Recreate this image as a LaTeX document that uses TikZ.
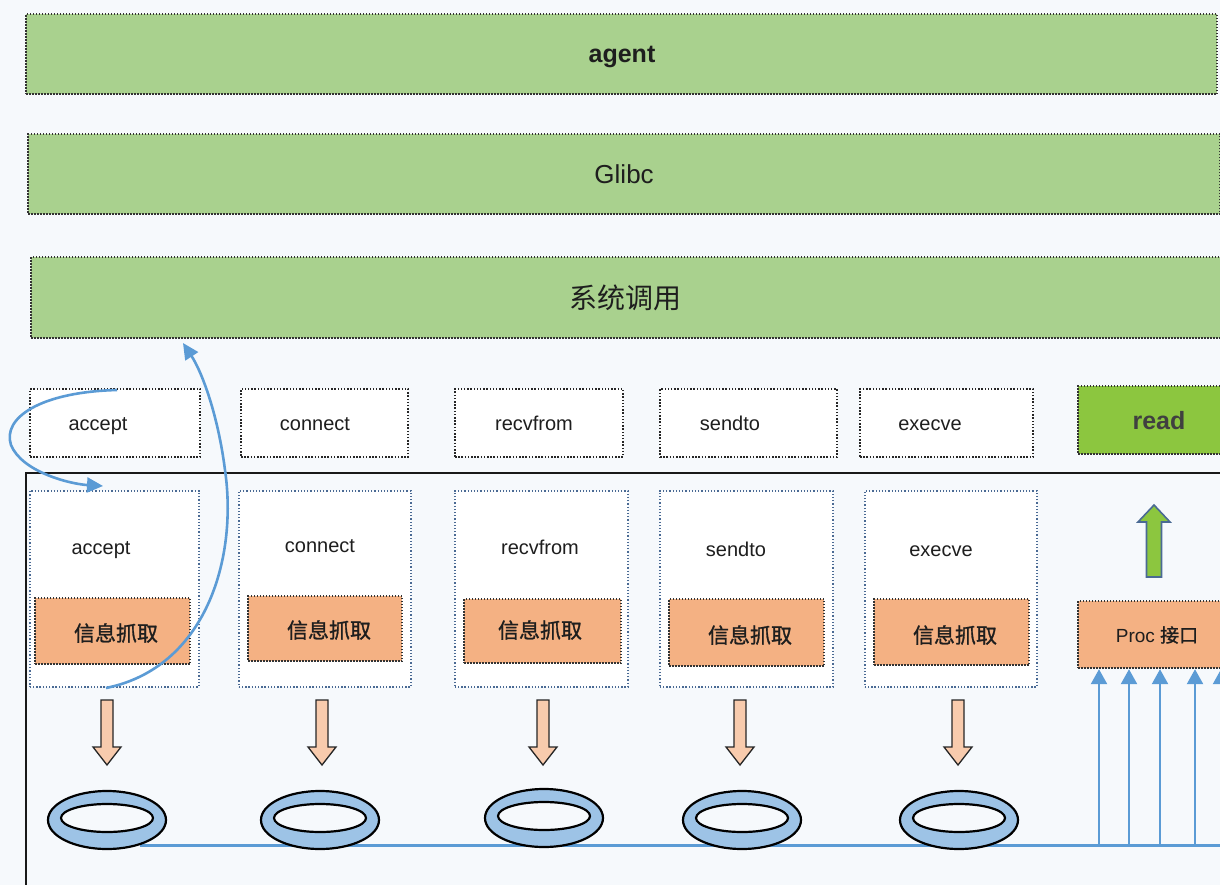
\documentclass[tikz,border=0pt]{standalone}
\usepackage{fontspec}
\setmainfont{Liberation Sans}
\newfontfamily\cjk{Noto Sans CJK SC}
\newfontfamily\cjkfb[FakeBold=1.2]{Noto Sans CJK SC}
\usetikzlibrary{arrows.meta,shapes.geometric}
\definecolor{bg}{HTML}{F6F9FC}
\definecolor{barGreen}{HTML}{A9D18E}
\definecolor{readGreen}{HTML}{8CC63F}
\definecolor{infoOrange}{HTML}{F4B183}
\definecolor{arrowPeach}{HTML}{F8CBAD}
\definecolor{ringBlue}{HTML}{9DC3E6}
\definecolor{lineBlue}{HTML}{5B9BD5}
\definecolor{hookBlue}{HTML}{4A6A94}
\definecolor{txt}{HTML}{1E1E1E}
\begin{document}
\begin{tikzpicture}[x=1pt,y=-1pt,
  greenbar/.style={draw=black!80, line width=2.2pt, dash pattern=on 1.5pt off 1.5pt, fill=barGreen, anchor=north west, inner sep=0pt, text=txt},
  callbox/.style={draw=black!85, line width=2pt, dash pattern=on 1.5pt off 1.7pt, fill=white, anchor=north west, inner sep=0pt},
  hookbox/.style={draw=hookBlue, line width=1.6pt, dash pattern=on 1.3pt off 1.9pt, fill=white, anchor=north west, inner sep=0pt},
  infobox/.style={draw=black!80, line width=2.2pt, dash pattern=on 1.5pt off 1.5pt, fill=infoOrange, anchor=north west, inner sep=0pt, text=txt},
  lbl/.style={font=\fontsize{20}{24}\selectfont, text=txt, inner sep=0pt, text height=14pt, text depth=4pt},
  cjklbl/.style={font=\cjkfb\fontsize{21}{24}\selectfont, text=txt, inner sep=0pt},
  ring/.style={ellipse, draw=black, line width=2.2pt, fill=ringBlue, minimum width=118pt, minimum height=58pt, inner sep=0pt},
  ringhole/.style={ellipse, draw=black, line width=2.2pt, fill=bg, minimum width=92pt, minimum height=28pt, inner sep=0pt},
  downarrow/.style={draw=black!85, line width=1.3pt, fill=arrowPeach},
  curve/.style={draw=lineBlue, line width=2.6pt, -{Triangle[length=16pt,width=15pt]}},
  bus/.style={draw=lineBlue, line width=3pt},
  feed/.style={draw=lineBlue, line width=2.4pt, -{Triangle[length=15pt,width=16pt]}}
]
\clip (0,0) rectangle (1220,885);
\fill[bg] (0,0) rectangle (1220,885);

% top layers
\node[greenbar, minimum width=1191pt, minimum height=80pt] (agent) at (25,13) {};
\node[font=\bfseries\fontsize{25}{28}\selectfont, text=txt, inner sep=0pt] (agentT) at (622,57) {agent};
\node[greenbar, minimum width=1192pt, minimum height=80pt, font=\fontsize{26}{28}\selectfont] (glibc) at (27,133) {Glibc};
\node[greenbar, minimum width=1200pt, minimum height=81pt] (sys) at (30,256) {};
\node[font=\cjk\fontsize{28}{30}\selectfont, text=txt, inner sep=0pt] (sysT) at (625,298) {系统调用};

% system call boxes
\node[callbox, minimum width=170pt, minimum height=68pt] (cA) at (29,388) {};
\node[callbox, minimum width=167pt, minimum height=68pt] (cB) at (240,388) {};
\node[callbox, minimum width=168pt, minimum height=68pt] (cC) at (454,388) {};
\node[callbox, minimum width=177pt, minimum height=68pt] (cD) at (659,388) {};
\node[callbox, minimum width=173pt, minimum height=68pt] (cE) at (859,388) {};
\node[lbl] (cAT) at (98,425) {accept};
\node[lbl] (cBT) at (315,425) {connect};
\node[lbl] (cCT) at (534,425) {recvfrom};
\node[lbl] (cDT) at (730,425) {sendto};
\node[lbl] (cET) at (930,425) {execve};
\node[draw=black!80, line width=2.2pt, dash pattern=on 1.5pt off 1.5pt, fill=readGreen, anchor=north west, inner sep=0pt, minimum width=160pt, minimum height=68pt] (read) at (1077,385) {};
\node[font=\bfseries\fontsize{25}{28}\selectfont, text=txt!85, inner sep=0pt] (readT) at (1159,421) {read};

% kernel frame
\coordinate (frameL) at (26,890);
\coordinate (frameTL) at (26,473);
\coordinate (frameR) at (1225,473);
\draw[black!90, line width=2.6pt] (frameL) -- (frameTL) -- (frameR);

% hook boxes
\node[hookbox, minimum width=169pt, minimum height=196pt] (hA) at (29,490) {};
\node[hookbox, minimum width=172pt, minimum height=196pt] (hB) at (238,490) {};
\node[hookbox, minimum width=173pt, minimum height=196pt] (hC) at (454,490) {};
\node[hookbox, minimum width=173pt, minimum height=196pt] (hD) at (659,490) {};
\node[hookbox, minimum width=172pt, minimum height=196pt] (hE) at (864,490) {};
\node[lbl] (hAT) at (101,549) {accept};
\node[lbl] (hBT) at (320,547) {connect};
\node[lbl] (hCT) at (540,549) {recvfrom};
\node[lbl] (hDT) at (736,551) {sendto};
\node[lbl] (hET) at (941,551) {execve};

% info boxes
\node[infobox, minimum width=155pt, minimum height=66pt] (iA) at (34,597) {};
\node[infobox, minimum width=154pt, minimum height=65pt] (iB) at (247,595) {};
\node[infobox, minimum width=157pt, minimum height=64pt] (iC) at (463,598) {};
\node[infobox, minimum width=155pt, minimum height=67pt] (iD) at (668,598) {};
\node[infobox, minimum width=155pt, minimum height=66pt] (iE) at (873,598) {};
\node[infobox, minimum width=160pt, minimum height=67pt] (proc) at (1077,600) {};
\node[cjklbl] (iAT) at (116,633) {信息抓取};
\node[cjklbl] (iBT) at (329,630) {信息抓取};
\node[cjklbl] (iCT) at (540,630) {信息抓取};
\node[cjklbl] (iDT) at (750,635) {信息抓取};
\node[cjklbl] (iET) at (955,635) {信息抓取};
\node[font=\fontsize{19}{22}\selectfont, text=txt, inner sep=0pt] (procT) at (1157,635) {Proc {\cjkfb 接口}};

% green up arrow
\draw[draw=hookBlue, line width=1.6pt, fill=readGreen]
  (1154,505) -- (1170,522) -- (1161.5,522) -- (1161.5,577) -- (1146.5,577) -- (1146.5,522) -- (1138,522) -- cycle;

% down arrows
\foreach \c in {107,322,543,740,958}{
  \draw[downarrow] (\c-6,700) -- (\c+6,700) -- (\c+6,747) -- (\c+14,747) -- (\c,765) -- (\c-14,747) -- (\c-6,747) -- cycle;
}

% bus line
\coordinate (busA) at (140,845);
\coordinate (busEnd) at (1225,845);
\draw[bus] (busA) -- (busEnd);

% rings
\node[ring] (rA) at (107,820) {};
\node[ringhole] (rAh) at (107,818) {};
\node[ring] (rB) at (320,820) {};
\node[ringhole] (rBh) at (320,818) {};
\node[ring] (rC) at (544,818) {};
\node[ringhole] (rCh) at (544,816) {};
\node[ring] (rD) at (742,820) {};
\node[ringhole] (rDh) at (742,818) {};
\node[ring] (rE) at (959,820) {};
\node[ringhole] (rEh) at (959,818) {};

% feeds into proc
\foreach \x/\n in {1099/1,1129/2,1160/3,1195/4,1221/5}{
  \coordinate (f\n) at (\x,845);
  \draw[feed] (f\n) -- (f\n |- proc.south);
}

% curved arrows
\coordinate (cs1) at (117,390);
\coordinate (ce1) at (103,486);
\draw[curve] (cs1) .. controls (40,392) and (2,418) .. (11,445) .. controls (22,472) and (70,484) .. (ce1);
\coordinate (cs2) at (106,688);
\coordinate (ce2) at (183,343);
\draw[curve] (cs2) .. controls (205,668) and (238,560) .. (225,470) .. controls (218,415) and (202,372) .. (ce2);
\end{tikzpicture}
\end{document}
